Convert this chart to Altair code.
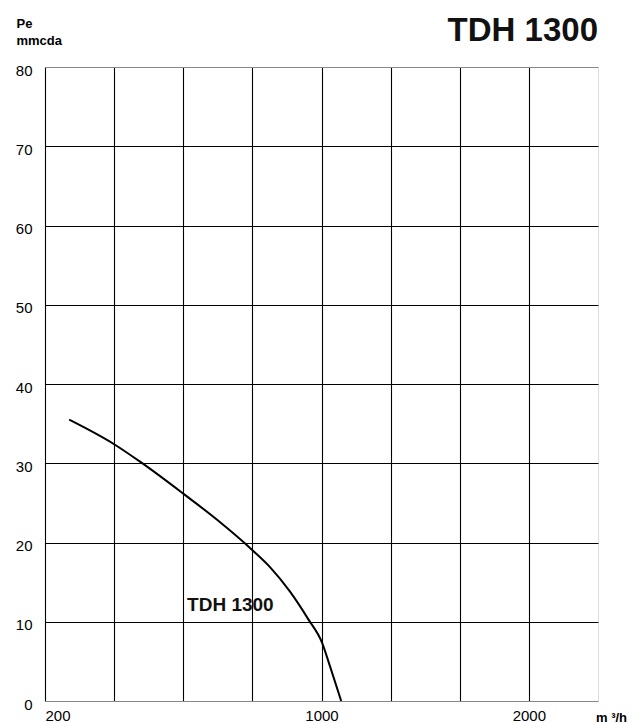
import altair as alt
import pandas as pd

# Curve (flow m3/h vs pressure mmcda)
flow = [270, 400, 475, 602, 697, 801, 851, 909, 962, 1002, 1042, 1095]
pressure = [35.5, 32.4, 30.2, 26.1, 22.9, 19.0, 16.9, 13.8, 10.3, 7.4, 4.3, 0.0]

# axis structure
x_breaks = [200, 1000, 2000, 2333.33]
x_grid = [200, 400, 600, 800, 1000, 1333.33, 1666.67, 2000]
x_labels = [200, 1000, 2000]
y_ticks = [0, 10, 20, 30, 40, 50, 60, 70, 80]

label_x = [611]
label_y = [11.4]
label_text = ["TDH 1300"]

W, H = 553, 634
FONT = "Liberation Sans"

curve_df = pd.DataFrame({"q": flow, "p": pressure})
label_df = pd.DataFrame({"q": label_x, "p": label_y, "t": label_text})

xscale = alt.Scale(domain=x_breaks, range=[0, W * 4 / 8, W * 7 / 8, W], nice=False, zero=False)
yscale = alt.Scale(domain=[0, 80], nice=False, zero=True)

lab_test = " || ".join(f"datum.value == {v}" for v in x_labels)

xaxis = alt.Axis(
    values=x_grid,
    labelExpr=f"({lab_test}) ? format(datum.value, 'd') : ''",
    grid=True, gridColor="#000000", gridWidth=1.1,
    ticks=False, domain=False,
    labelFont=FONT, labelFontSize=15, labelColor="#000000",
    labelPadding=7, labelBaseline="top",
    title="m ³/h", titleFont=FONT, titleFontSize=13, titleFontWeight="bold",
    titleColor="#000000", titleX=566, titleY=20, titleAlign="center",
    titleBaseline="alphabetic",
)

yaxis = alt.Axis(
    values=y_ticks,
    grid=True,
    gridColor={"condition": {"test": "datum.value == 0 || datum.value == 80", "value": "#888888"}, "value": "#000000"},
    gridWidth=1.1,
    ticks=False, domain=False,
    labelFont=FONT, labelFontSize=15, labelColor="#000000",
    labelPadding=13, labelOffset=3,
    title=["Pe", "mmcda"], titleFont=FONT, titleFontSize=13, titleFontWeight="bold",
    titleColor="#000000", titleAngle=0, titleAlign="left", titleBaseline="top",
    titleX=-29, titleY=-50, titleLineHeight=17,
)

curve = alt.Chart(curve_df).mark_line(color="#000000", strokeWidth=2, interpolate="monotone").encode(
    x=alt.X("q:Q", scale=xscale, axis=xaxis),
    y=alt.Y("p:Q", scale=yscale, axis=yaxis),
)

label = alt.Chart(label_df).mark_text(
    font=FONT, fontSize=19, fontWeight="bold", color="#111111", align="left", baseline="alphabetic"
).encode(
    x=alt.X("q:Q", scale=xscale),
    y=alt.Y("p:Q", scale=yscale),
    text="t:N",
)

chart = (curve + label).properties(
    width=W, height=H,
    autosize=alt.AutoSizeParams(type="none"),
    padding={"left": 37, "top": 59, "right": 38, "bottom": 22},
    title=alt.TitleParams(
        "TDH 1300", anchor="end", frame="group", orient="top",
        font=FONT, fontSize=33, fontWeight="bold", color="#111111",
        offset=0, baseline="alphabetic", dy=57,
    ),
).configure_view(stroke="#888888", strokeWidth=1.2).configure(background="white")

chart.save("out.html", embed_options={"renderer": "svg", "actions": False})
